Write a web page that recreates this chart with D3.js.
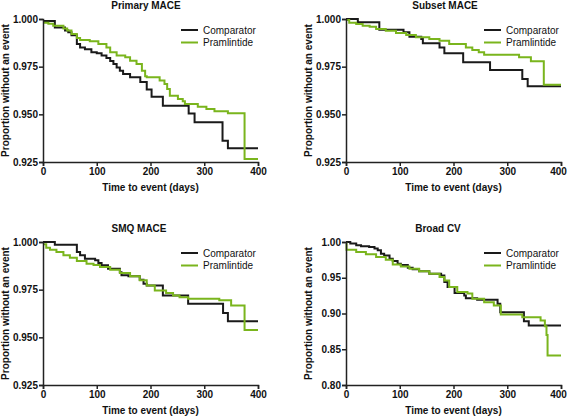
<!DOCTYPE html>
<html><head><meta charset="utf-8">
<script src="https://cdn.jsdelivr.net/npm/d3@7"></script>
<style>
body{margin:0;background:#fff;}
svg{display:block;font-family:"Liberation Sans",Arial,sans-serif;}
</style></head>
<body><svg id="c" width="567" height="416"></svg>
<script>
const panelTitles = ["Primary MACE","Subset MACE","SMQ MACE","Broad CV"];
const seriesNames = ["Comparator","Pramlintide"];
const xTicks = [0,100,200,300,400];
const yTicksMace = [0.925,0.950,0.975,1.000];
const yTicksBroad = [0.80,0.85,0.90,0.95,1.00];

const primaryComparator = [[0,0.999],[22,0.9956],[41,0.994],[47,0.993],[53,0.9915],[63,0.9869],[69,0.985],[78,0.9842],[90,0.9825],[100,0.982],[109,0.9808],[118,0.9795],[125,0.978],[131,0.9764],[137,0.9745],[143,0.9729],[149,0.9711],[162,0.9694],[181,0.967],[193,0.963],[202,0.9592],[223,0.9545],[271,0.9505],[282,0.9458],[334,0.9362],[344,0.9322],[400,0.9322]];
const primaryPramlintide = [[0,0.998],[10,0.9975],[19,0.9964],[38,0.995],[45,0.994],[53,0.9921],[63,0.990],[69,0.989],[87,0.9883],[103,0.9869],[118,0.9851],[125,0.9825],[137,0.9808],[153,0.980],[162,0.9781],[174,0.9764],[184,0.9729],[190,0.970],[193,0.9694],[217,0.9677],[226,0.9659],[231,0.9633],[236,0.9598],[251,0.958],[260,0.9568],[264,0.9554],[288,0.954],[304,0.9528],[319,0.9516],[344,0.9506],[375,0.9266],[400,0.9266]];

const subsetComparator = [[0,1.0],[22,0.9983],[62,0.9944],[107,0.993],[118,0.9907],[140,0.9895],[143,0.9873],[174,0.9851],[183,0.982],[218,0.9773],[268,0.9733],[328,0.9685],[338,0.9647],[400,0.9647]];
const subsetPramlintide = [[0,0.9995],[6,0.998],[19,0.9974],[31,0.9965],[44,0.996],[56,0.9948],[74,0.9939],[93,0.9927],[112,0.9916],[130,0.9904],[155,0.9895],[174,0.9886],[192,0.9869],[223,0.9851],[235,0.9837],[247,0.9825],[257,0.9813],[322,0.9799],[344,0.9778],[368,0.9655],[400,0.9655]];

const smqComparator = [[0,1.0],[22,0.9986],[63,0.9947],[69,0.993],[78,0.9912],[97,0.9904],[103,0.989],[109,0.9878],[121,0.986],[143,0.9842],[146,0.9825],[159,0.982],[180,0.9802],[187,0.9781],[193,0.9772],[223,0.972],[270,0.9676],[335,0.9627],[344,0.9585],[400,0.9585]];
const smqPramlintide = [[0,0.9988],[6,0.997],[13,0.996],[25,0.9947],[38,0.993],[50,0.9918],[63,0.990],[81,0.9886],[94,0.988],[106,0.9869],[125,0.9855],[143,0.9837],[162,0.982],[180,0.9799],[193,0.9772],[208,0.9746],[229,0.9732],[242,0.972],[254,0.971],[270,0.9702],[328,0.9695],[350,0.9667],[375,0.9539],[400,0.9539]];

const broadComparator = [[0,1.0],[8,0.998],[19,0.9953],[28,0.994],[43,0.993],[53,0.991],[59,0.9883],[65,0.9836],[71,0.981],[81,0.9766],[87,0.9734],[96,0.9696],[102,0.968],[115,0.964],[124,0.962],[136,0.959],[155,0.9556],[177,0.9533],[183,0.944],[189,0.9369],[202,0.9285],[220,0.9253],[223,0.9215],[244,0.9191],[282,0.9135],[287,0.9019],[331,0.8893],[340,0.8832],[400,0.8832]];
const broadPramlintide = [[0,0.998],[1,0.989],[19,0.986],[37,0.9828],[56,0.979],[74,0.9752],[87,0.9687],[102,0.9659],[118,0.9626],[136,0.959],[155,0.9556],[174,0.951],[183,0.9463],[192,0.9369],[207,0.93],[226,0.928],[235,0.9205],[257,0.9159],[275,0.9112],[288,0.8987],[328,0.8949],[362,0.8903],[370,0.882],[373,0.87],[375,0.8412],[400,0.8412]];

const colors = ["#1a1a1a","#7ab51d"];

const panels = [
  {title:panelTitles[0], left:43, top:19, data:[primaryComparator,primaryPramlintide], yt:yTicksMace, yd:[0.925,1], fmt:".3f", tx:146, right:false},
  {title:panelTitles[1], left:346, top:19, data:[subsetComparator,subsetPramlintide], yt:yTicksMace, yd:[0.925,1], fmt:".3f", tx:445, right:true},
  {title:panelTitles[2], left:43, top:242, data:[smqComparator,smqPramlintide], yt:yTicksMace, yd:[0.925,1], fmt:".3f", tx:139, right:false},
  {title:panelTitles[3], left:346, top:242, data:[broadComparator,broadPramlintide], yt:yTicksBroad, yd:[0.80,1], fmt:".2f", tx:438, right:true}
];
const W = 215, H = 143;
const svg = d3.select("#c");

panels.forEach(p => {
  const g = svg.append("g").attr("transform", `translate(${p.left},${p.top})`);
  const x = d3.scaleLinear().domain([0,400]).range([0,W]);
  const y = d3.scaleLinear().domain(p.yd).range([H,0]);

  const line = d3.line().x(d=>x(d[0])).y(d=>y(d[1])).curve(d3.curveStepAfter);
  p.data.forEach((s,i) => {
    g.append("path").datum(s).attr("d", line).attr("fill","none")
      .attr("stroke", colors[i]).attr("stroke-width", 2);
  });

  const xa = g.append("g").attr("transform",`translate(0,${H})`)
    .call(d3.axisBottom(x).tickValues(xTicks).tickSize(4).tickPadding(2).tickFormat(d3.format("d")));
  const ya = g.append("g")
    .call(d3.axisLeft(y).tickValues(p.yt).tickSize(4).tickPadding(1).tickFormat(d3.format(p.fmt)));
  [xa,ya].forEach(a => {
    a.selectAll("path").attr("stroke","#222").attr("stroke-width",1.5);
    a.selectAll("line").attr("stroke","#222").attr("stroke-width",1.5);
    a.selectAll("text").attr("font-size",10).attr("font-weight","bold").attr("fill","#111")
      .attr("font-family","'Liberation Sans',Arial,sans-serif");
  });
  if (p.right) {
    xa.selectAll(".tick").filter(d => d === 400).select("text").attr("dx", -3);
  }

  g.append("text").attr("x", W/2).attr("y", H+29).attr("text-anchor","middle")
    .attr("font-size",10).attr("font-weight","bold").attr("fill","#111").text("Time to event (days)");
  g.append("text").attr("transform",`translate(-38,${H/2}) rotate(-90)`).attr("dy","0.35em")
    .attr("text-anchor","middle").attr("font-size",10).attr("font-weight","bold").attr("fill","#111")
    .text("Proportion without an event");
  svg.append("text").attr("x", p.tx).attr("y", p.top-14).attr("dy","0.35em").attr("text-anchor","middle")
    .attr("font-size",10).attr("font-weight","bold").attr("fill","#111").text(p.title);

  const lg = g.append("g").attr("transform",`translate(${138},${11})`);
  seriesNames.forEach((n,i) => {
    lg.append("line").attr("x1",0).attr("x2",17).attr("y1",i*12.5).attr("y2",i*12.5)
      .attr("stroke",colors[i]).attr("stroke-width",2);
    lg.append("text").attr("x",22).attr("y",i*12.5).attr("dy","0.35em")
      .attr("font-size",10).attr("fill","#111").text(n);
  });
});
</script></body></html>
